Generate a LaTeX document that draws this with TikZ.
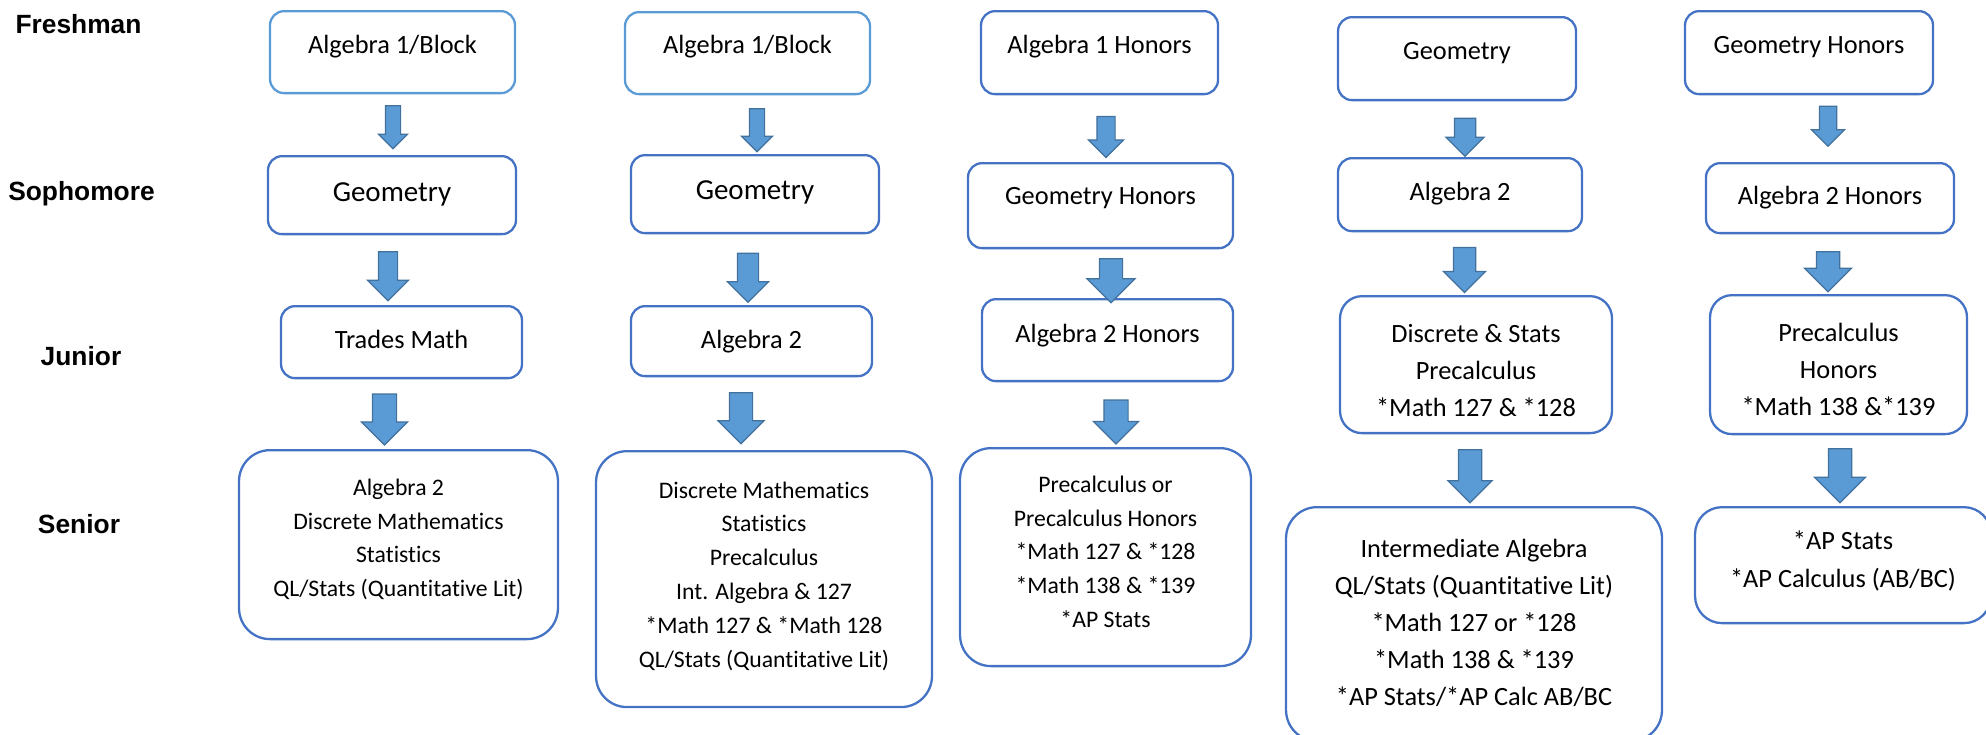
\documentclass[tikz,border=0pt]{standalone}
\usepackage{fontspec}
\setmainfont{Carlito}[Ligatures=NoCommon]
\newfontfamily\yearfont{Liberation Sans}
\usetikzlibrary{shapes.arrows}
\definecolor{boxblue}{HTML}{4472C4}
\definecolor{lightblue}{HTML}{5B9BD5}
\definecolor{arrowfill}{HTML}{5B9BD5}
\definecolor{arrowline}{HTML}{41719C}
\tikzset{
  coursebox/.style={draw=boxblue, line width=1.3pt, rounded corners=0.28cm, anchor=north,
    inner sep=0pt, align=center, font=\fontsize{15}{21}\selectfont},
  freshbox/.style={coursebox, draw=lightblue},
  seniorbox/.style={coursebox, rounded corners=0.62cm, font=\fontsize{13.5}{19.3}\selectfont},
  yearlabel/.style={anchor=base, font=\yearfont\bfseries\fontsize{15}{18}\selectfont},
  bigarrow/.style={single arrow, draw=arrowline, fill=arrowfill, line width=0.7pt,
    rotate=-90, inner xsep=0pt, minimum width=0pt}
}
\begin{document}
\begin{tikzpicture}[x=0.02cm, y=-0.02cm]
\useasboundingbox (0,0) rectangle (1986,734);
\clip (0,0) rectangle (1986,734);
\node[yearlabel] (Y1) at (78.5,33) {Freshman};
\node[yearlabel] (Y2) at (81.5,200) {Sophomore};
\node[yearlabel] (Y3) at (81,365) {Junior};
\node[yearlabel] (Y4) at (79,533) {Senior};

\node[freshbox, minimum width=4.9cm, text height=0.84cm, text depth=0.8cm] (A1) at (392.5,10) {Algebra 1/Block};
\node[coursebox, minimum width=4.96cm, text height=0.9cm, text depth=0.66cm, font=\fontsize{16.5}{20}\selectfont] (A2) at (392,155) {Geometry};
\node[coursebox, minimum width=4.82cm, text height=0.84cm, text depth=0.6cm] (A3) at (401.5,305) {Trades Math};
\node[seniorbox, minimum width=6.38cm, text height=2.935cm, text depth=0.845cm] (A4) at (398.5,449)
  {Algebra 2\\Discrete Mathematics\\Statistics\\QL/Stats (Quantitative Lit)};
\node[bigarrow, minimum height=0.86cm, inner ysep=0.14cm, single arrow head extend=0.14cm] (A12) at (393,123.5) {};
\node[bigarrow, minimum height=0.98cm, inner ysep=0.18cm, single arrow head extend=0.22cm] (A23) at (388,271.5) {};
\node[bigarrow, minimum height=1.02cm, inner ysep=0.23cm, single arrow head extend=0.22cm] (A34) at (384.5,413.5) {};

\node[freshbox, minimum width=4.9cm, text height=0.82cm, text depth=0.82cm] (B1) at (747.5,11) {Algebra 1/Block};
\node[coursebox, minimum width=4.96cm, text height=0.88cm, text depth=0.68cm, font=\fontsize{16.5}{20}\selectfont] (B2) at (755,154) {Geometry};
\node[coursebox, minimum width=4.82cm, text height=0.84cm, text depth=0.56cm] (B3) at (751.5,305) {Algebra 2};
\node[seniorbox, minimum width=6.72cm, text height=4.33cm, text depth=0.79cm] (B4) at (764,450)
  {Discrete Mathematics\\Statistics\\Precalculus\\Int. Algebra \& 127\\*Math 127 \& *Math 128\\QL/Stats (Quantitative Lit)};
\node[bigarrow, minimum height=0.86cm, inner ysep=0.14cm, single arrow head extend=0.16cm] (B12) at (757,126.5) {};
\node[bigarrow, minimum height=0.98cm, inner ysep=0.2cm, single arrow head extend=0.2cm] (B23) at (748,272.5) {};
\node[bigarrow, minimum height=1.02cm, inner ysep=0.22cm, single arrow head extend=0.23cm] (B34) at (741,412.5) {};

\node[coursebox, minimum width=4.74cm, text height=0.84cm, text depth=0.82cm] (C1) at (1099.5,10) {Algebra 1 Honors};
\node[coursebox, minimum width=5.3cm, text height=0.82cm, text depth=0.88cm] (C2) at (1100.5,162) {Geometry Honors};
\node[coursebox, minimum width=5.02cm, text height=0.86cm, text depth=0.78cm] (C3) at (1107.5,298) {Algebra 2 Honors};
\node[seniorbox, minimum width=5.82cm, text height=3.593cm, text depth=0.767cm] (C4) at (1105.5,447)
  {Precalculus or\\Precalculus Honors\\*Math 127 \& *128\\*Math 138 \& *139\\*AP Stats};
\node[bigarrow, minimum height=0.82cm, inner ysep=0.17cm, single arrow head extend=0.17cm] (C12) at (1106,132.5) {};
\node[bigarrow, minimum height=0.88cm, inner ysep=0.22cm, single arrow head extend=0.25cm] (C23) at (1111,275) {};
\node[bigarrow, minimum height=0.88cm, inner ysep=0.23cm, single arrow head extend=0.21cm] (C34) at (1116,416) {};

\node[coursebox, minimum width=4.76cm, text height=0.84cm, text depth=0.82cm] (D1) at (1457,16) {Geometry};
\node[coursebox, minimum width=4.88cm, text height=0.84cm, text depth=0.62cm] (D2) at (1460,157) {Algebra 2};
\node[coursebox, minimum width=5.44cm, text height=2.402cm, text depth=0.338cm, rounded corners=0.44cm] (D3) at (1476,295)
  {Discrete \& Stats\\Precalculus\\*Math 127 \& *128};
\node[seniorbox, minimum width=7.52cm, text height=3.963cm, text depth=0.717cm, font=\fontsize{15}{21}\selectfont] (D4) at (1474,506)
  {Intermediate Algebra\\QL/Stats (Quantitative Lit)\\*Math 127 or *128\\*Math 138 \& *139\\*AP Stats/*AP Calc AB/BC};
\node[bigarrow, minimum height=0.76cm, inner ysep=0.2cm, single arrow head extend=0.17cm] (D12) at (1465,132) {};
\node[bigarrow, minimum height=0.9cm, inner ysep=0.21cm, single arrow head extend=0.2cm] (D23) at (1464.5,264.5) {};
\node[bigarrow, minimum height=1.06cm, inner ysep=0.22cm, single arrow head extend=0.21cm] (D34) at (1470,470.5) {};

\node[coursebox, minimum width=4.96cm, text height=0.84cm, text depth=0.82cm] (E1) at (1809,10) {Geometry Honors};
\node[coursebox, minimum width=4.96cm, text height=0.82cm, text depth=0.58cm] (E2) at (1830,162) {Algebra 2 Honors};
\node[coursebox, minimum width=5.14cm, text height=2.402cm, text depth=0.378cm, rounded corners=0.44cm] (E3) at (1838.5,294)
  {Precalculus\\Honors\\*Math 138 \&*139};
\node[seniorbox, minimum width=5.92cm, text height=1.598cm, text depth=0.722cm, font=\fontsize{15}{21.5}\selectfont, rounded corners=0.54cm] (E4) at (1843,506)
  {*AP Stats\\*AP Calculus (AB/BC)};
\node[bigarrow, minimum height=0.8cm, inner ysep=0.16cm, single arrow head extend=0.16cm] (E12) at (1828,122) {};
\node[bigarrow, minimum height=0.8cm, inner ysep=0.22cm, single arrow head extend=0.24cm] (E23) at (1828,266) {};
\node[bigarrow, minimum height=1.08cm, inner ysep=0.22cm, single arrow head extend=0.28cm] (E34) at (1840,470) {};
\end{tikzpicture}
\end{document}
